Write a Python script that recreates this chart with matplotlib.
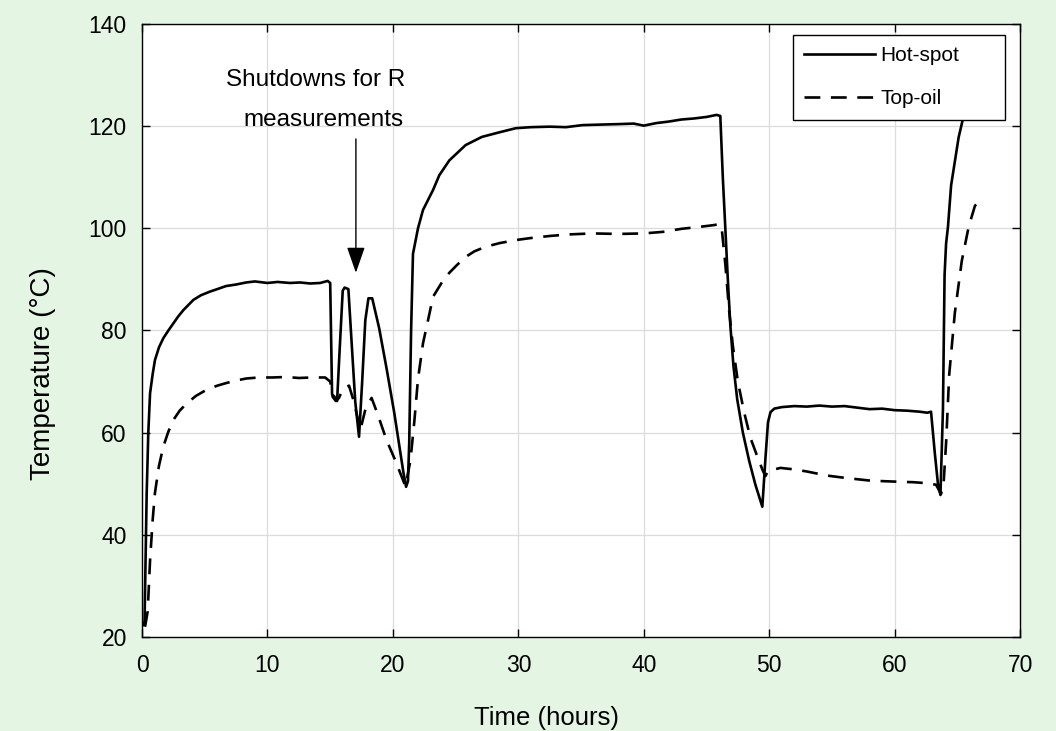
import numpy as np
import matplotlib.pyplot as plt

plt.rcParams['font.family'] = ['Liberation Sans', 'DejaVu Sans']

# ---- Data (time in hours, temperature in deg C) ----
hot_time = [0.05, 0.2, 0.37, 0.5, 0.64, 0.85, 1.03, 1.35, 1.7, 2.1, 2.5, 2.9,
            3.3, 3.7, 4.1, 4.7, 5.4, 6.0, 6.7, 7.5, 8.3, 9.0, 10.0, 10.8,
            11.8, 12.6, 13.4, 14.2, 14.8, 15.0, 15.15, 15.35, 15.55, 15.75,
            16.0, 16.15, 16.45, 16.7, 17.0, 17.3, 17.55, 17.8, 18.05, 18.35,
            18.9, 19.5, 20.1, 20.6, 20.85, 21.05, 21.2, 21.3, 21.45, 21.6,
            22.0, 22.4, 23.2, 23.7, 24.5, 25.8, 27.1, 28.5, 29.8, 31.0, 32.5,
            33.8, 35.1, 36.5, 38.0, 39.2, 40.0, 41.0, 42.0, 43.0, 44.0, 45.0,
            45.8, 46.1, 46.3, 46.5, 46.7, 46.9, 47.15, 47.45, 47.9, 48.4,
            48.9, 49.45, 49.7, 49.9, 50.1, 50.4, 51.0, 52.0, 53.0, 54.0, 55.0,
            56.0, 57.0, 58.0, 59.0, 60.0, 61.0, 62.0, 62.6, 62.9, 63.2, 63.45,
            63.65, 63.85, 63.98, 64.1, 64.25, 64.5, 64.8, 65.1, 65.45, 65.9]
hot_temp = [22.3, 23.0, 48.0, 60.0, 67.7, 71.5, 74.2, 76.7, 78.5, 80.0, 81.4,
            82.8, 84.0, 85.0, 86.0, 86.9, 87.6, 88.1, 88.7, 89.0, 89.4, 89.6,
            89.3, 89.5, 89.3, 89.4, 89.2, 89.3, 89.7, 89.3, 67.5, 67.0, 66.2,
            76.0, 87.8, 88.4, 88.1, 78.0, 66.0, 59.2, 70.0, 82.0, 86.3, 86.3,
            80.5, 72.5, 64.0, 56.0, 52.0, 49.4, 50.5, 58.0, 80.0, 95.0, 100.0,
            103.6, 107.5, 110.4, 113.3, 116.3, 117.9, 118.8, 119.6, 119.8,
            119.9, 119.8, 120.2, 120.3, 120.4, 120.5, 120.1, 120.6, 120.9,
            121.3, 121.5, 121.8, 122.2, 122.0, 110.0, 100.0, 90.0, 81.0, 73.0,
            66.5, 60.0, 54.5, 49.8, 45.5, 55.0, 62.0, 64.0, 64.7, 65.0, 65.2,
            65.1, 65.3, 65.1, 65.2, 64.9, 64.6, 64.7, 64.4, 64.3, 64.1, 63.9,
            64.1, 56.0, 50.0, 47.8, 64.6, 90.9, 97.0, 100.3, 108.4, 113.1,
            117.8, 121.5, 126.0]

oil_time = [0.24, 0.45, 0.64, 0.85, 1.03, 1.35, 1.7, 2.1, 2.5, 3.0, 3.55, 4.3,
            5.15, 6.0, 6.7, 7.5, 8.3, 9.3, 10.4, 11.5, 12.5, 13.5, 14.6, 15.0,
            15.2, 15.45, 15.7, 16.0, 16.5, 16.9, 17.4, 17.8, 18.3, 18.8, 19.5,
            20.2, 20.6, 21.0, 21.4, 21.7, 22.0, 22.4, 22.8, 23.2, 24.0, 24.5,
            25.1, 25.8, 26.5, 27.4, 28.5, 29.8, 31.0, 32.5, 34.0, 35.9, 38.0,
            40.0, 41.5, 43.0, 44.5, 45.5, 46.0, 46.2, 46.5, 46.8, 47.1, 47.5,
            48.0, 48.5, 49.1, 49.5, 49.7, 49.9, 50.9, 52.0, 53.0, 54.6, 56.2,
            58.1, 60.2, 61.5, 62.6, 63.3, 63.7, 63.9, 64.1, 64.35, 64.8, 65.35,
            65.9, 66.4, 66.85]
oil_temp = [22.0, 25.0, 35.0, 43.0, 48.2, 53.5, 57.3, 60.2, 62.5, 64.3, 65.7,
            67.2, 68.4, 69.2, 69.7, 70.2, 70.6, 70.8, 70.8, 70.9, 70.7, 70.8,
            70.8, 70.0, 67.0, 66.2, 66.8, 68.5, 69.2, 66.0, 60.5, 64.5, 66.8,
            63.5, 58.5, 54.5, 52.0, 49.5, 54.6, 62.0, 70.5, 77.5, 82.0, 86.6,
            89.8, 91.3, 92.8, 94.4, 95.5, 96.4, 97.1, 97.7, 98.1, 98.5, 98.8,
            99.0, 98.9, 99.0, 99.3, 99.9, 100.3, 100.6, 100.8, 100.3, 93.0,
            84.0, 77.0, 70.0, 64.0, 59.0, 55.0, 52.5, 51.5, 52.5, 53.1, 52.8,
            52.4, 51.6, 51.1, 50.6, 50.4, 50.3, 50.1, 49.8, 48.0, 50.0, 58.0,
            71.4, 83.5, 93.6, 100.3, 104.4, 105.7]

x_ticks = [0, 10, 20, 30, 40, 50, 60, 70]
y_ticks = [20, 40, 60, 80, 100, 120, 140]

# ---- Plotting ----
fig = plt.figure(figsize=(10.56, 7.31), dpi=100, facecolor='#e4f5e4')
ax = fig.add_axes([0.1345, 0.1286, 0.8315, 0.8386])
ax.set_facecolor('white')

ax.plot(hot_time, hot_temp, '-', color='black', lw=1.9, label='Hot-spot')
ax.plot(oil_time, oil_temp, '--', color='black', lw=1.9, dashes=(6, 4),
        label='Top-oil')

ax.set_xlim(0, 70)
ax.set_ylim(20, 140)
ax.set_xticks(x_ticks)
ax.set_yticks(y_ticks)
ax.grid(True, color='#dcdcdc', lw=0.9)
ax.set_axisbelow(True)
ax.tick_params(direction='in', length=6, width=1, top=True, right=True,
               labelsize=16.5)
ax.tick_params(axis='y', pad=11)
ax.tick_params(axis='x', pad=12)
for sp in ax.spines.values():
    sp.set_linewidth(1.0)
    sp.set_color('black')

ax.set_xlabel('Time (hours)', fontsize=18.5)
ax.set_ylabel('Temperature (°C)', fontsize=20)
ax.xaxis.set_label_coords(0.461, -0.112)
ax.yaxis.set_label_coords(-0.098, 0.43)

# annotation for the shutdowns
ax.text(6.67, 129, 'Shutdowns for R', fontsize=17.5, ha='left', va='center')
ax.text(8.1, 121.2, 'measurements', fontsize=17.5, ha='left', va='center')
ax.annotate('', xy=(17.05, 91.3), xytext=(17.05, 117.5),
            arrowprops=dict(arrowstyle='-|>,head_length=0.8,head_width=0.28',
                            color='black', lw=1.0, mutation_scale=20,
                            shrinkA=0, shrinkB=0))

leg = ax.legend(loc='upper left', bbox_to_anchor=(0.741, 0.843, 0.2415, 0.139),
                mode='expand', fontsize=15, handlelength=3.4,
                handletextpad=0.25, labelspacing=1.15, borderpad=0.55,
                fancybox=False, framealpha=1, edgecolor='black', borderaxespad=0)
leg.get_frame().set_linewidth(1.0)

fig.savefig('out.png', dpi=100, facecolor=fig.get_facecolor())
